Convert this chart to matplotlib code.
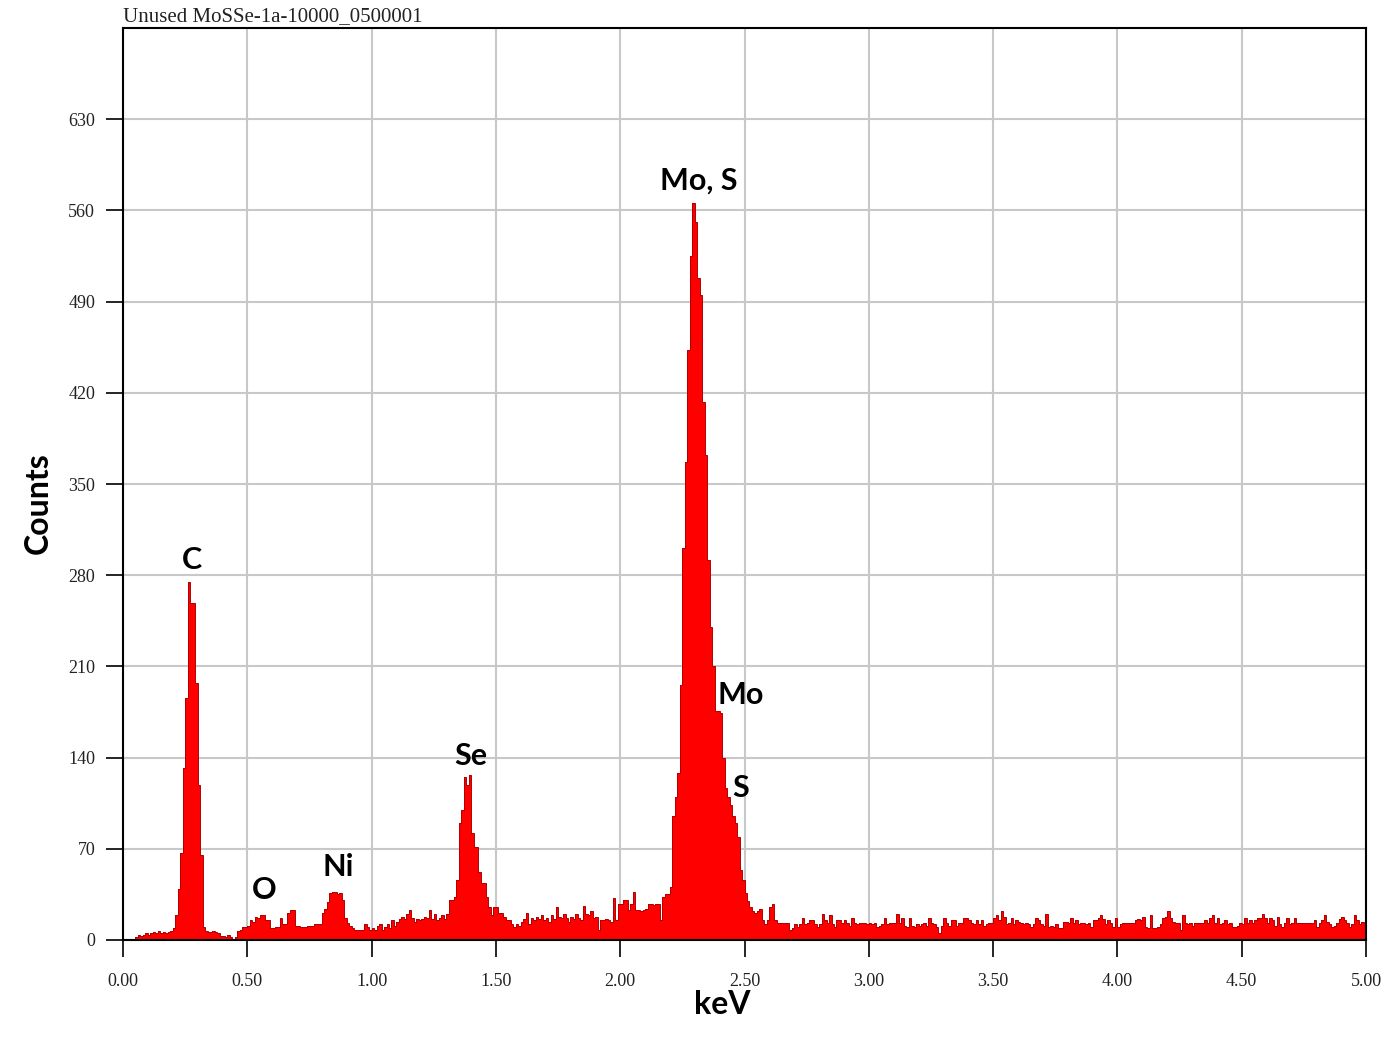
import numpy as np
import matplotlib
matplotlib.use("Agg")
import matplotlib.pyplot as plt

# EDS spectrum, 0.01 keV channels, counts
counts_0_1 = [0, 0, 0, 0, 0, 2, 4, 3, 4, 5,
              4, 5, 6, 5, 7, 5, 6, 5, 6, 7,
              9, 19, 39, 67, 132, 186, 275, 259, 259, 197,
              119, 65, 10, 7, 6, 6, 7, 6, 5, 3,
              3, 2, 4, 2, 1, 2, 7, 8, 10, 10,
              11, 15, 14, 18, 17, 19, 19, 15, 15, 9,
              9, 10, 10, 17, 12, 12, 21, 23, 23, 11,
              11, 10, 10, 10, 11, 11, 11, 12, 12, 12,
              21, 24, 29, 36, 37, 37, 35, 36, 31, 17,
              13, 11, 9, 8, 8, 8, 8, 12, 10, 8]
counts_1_2 = [9, 8, 11, 12, 8, 10, 12, 9, 15, 11,
              14, 16, 18, 16, 20, 23, 17, 14, 16, 15,
              16, 18, 17, 23, 16, 20, 15, 17, 19, 16,
              20, 31, 31, 33, 46, 90, 100, 125, 119, 127,
              82, 71, 71, 52, 44, 44, 33, 25, 19, 25,
              25, 21, 21, 18, 15, 15, 12, 10, 12, 11,
              14, 16, 21, 12, 17, 15, 18, 16, 19, 15,
              17, 14, 19, 16, 25, 18, 17, 20, 17, 14,
              18, 16, 20, 17, 15, 26, 20, 19, 22, 17,
              18, 8, 15, 15, 16, 15, 14, 32, 15, 28]
counts_2_3 = [28, 31, 31, 23, 28, 37, 23, 23, 22, 23,
              24, 28, 28, 27, 28, 28, 15, 33, 35, 35,
              41, 95, 110, 128, 196, 301, 367, 453, 525, 566,
              551, 508, 495, 413, 372, 292, 240, 210, 176, 176,
              174, 140, 117, 110, 104, 95, 90, 79, 54, 46,
              36, 30, 25, 22, 21, 22, 24, 15, 12, 15,
              25, 28, 15, 13, 13, 13, 13, 13, 8, 9,
              12, 10, 12, 17, 12, 13, 15, 15, 12, 10,
              12, 20, 15, 13, 19, 12, 10, 15, 15, 13,
              15, 13, 11, 17, 13, 12, 13, 13, 13, 12]
counts_3_4 = [13, 12, 13, 10, 11, 12, 17, 12, 13, 13,
              13, 20, 13, 17, 11, 10, 17, 11, 10, 12,
              11, 12, 13, 11, 17, 13, 12, 10, 5, 11,
              17, 13, 11, 15, 15, 11, 13, 13, 17, 17,
              15, 13, 12, 15, 12, 15, 11, 12, 13, 13,
              17, 19, 15, 22, 18, 12, 13, 17, 12, 15,
              14, 13, 12, 13, 12, 10, 12, 17, 15, 12,
              11, 20, 10, 11, 10, 12, 9, 9, 14, 14,
              13, 17, 13, 15, 12, 13, 13, 12, 13, 10,
              15, 15, 17, 19, 16, 12, 15, 13, 10, 17]
counts_4_5 = [10, 12, 13, 13, 13, 13, 13, 15, 16, 15,
              18, 10, 9, 19, 9, 9, 10, 12, 17, 18,
              22, 17, 14, 13, 13, 8, 19, 13, 12, 13,
              11, 13, 13, 13, 13, 15, 13, 17, 19, 13,
              17, 12, 13, 15, 12, 13, 10, 10, 11, 13,
              12, 17, 13, 15, 13, 15, 17, 17, 20, 17,
              13, 17, 15, 11, 18, 12, 10, 13, 17, 12,
              13, 17, 13, 13, 13, 13, 13, 13, 13, 15,
              10, 13, 15, 19, 14, 12, 10, 11, 13, 16,
              18, 15, 13, 10, 12, 19, 15, 12, 14, 13]

peak_labels = ["C", "O", "Ni", "Se", "Mo, S", "Mo", "S"]
peak_kev = [0.278, 0.567, 0.865, 1.40, 2.317, 2.486, 2.486]
peak_cts = [292, 38, 56, 141, 583, 188, 117]

xticks = [0.0, 0.5, 1.0, 1.5, 2.0, 2.5, 3.0, 3.5, 4.0, 4.5, 5.0]
yticks = [0, 70, 140, 210, 280, 350, 420, 490, 560, 630]

counts = np.array(counts_0_1 + counts_1_2 + counts_2_3 + counts_3_4 + counts_4_5)
edges = np.linspace(0, 5.0, len(counts) + 1)

fig = plt.figure(figsize=(13.87, 10.5), dpi=100)
ax = fig.add_axes([123/1387, 1 - 940/1050, (1366 - 123)/1387, (940 - 28)/1050])

ax.stairs(counts, edges, fill=True, color="#ff0000", zorder=3)
ax.stairs(counts, edges, baseline=None, color="#b00000", lw=0.7, zorder=4)

ax.set_xlim(0, 5.0)
ax.set_ylim(0, 700)
ax.set_xticks(xticks)
ax.set_yticks(yticks)
ax.set_xticklabels(["%.2f" % v for v in xticks])
ax.set_yticklabels([str(v) for v in yticks])
ax.grid(True, color="#c8c8c8", lw=1.5, zorder=0)
ax.set_axisbelow(True)
for s in ax.spines.values():
    s.set_linewidth(1.5)
    s.set_color("black")
    s.set_zorder(5)

ax.tick_params(axis="both", direction="out", length=12, width=1.2, color="black",
               labelsize=13, labelcolor="#222222")
ax.tick_params(axis="x", pad=12)
ax.tick_params(axis="y", pad=8)
for lab in ax.get_xticklabels() + ax.get_yticklabels():
    lab.set_family("Liberation Serif")

for txt, x, y in zip(peak_labels, peak_kev, peak_cts):
    ax.text(x, y, txt, ha="center", va="center", fontsize=22, fontweight="bold",
            family="Lato", color="black", zorder=6)

fig.text(123/1387, 1 - 17/1050, "Unused MoSSe-1a-10000_0500001", ha="left", va="center",
         fontsize=15, family="Liberation Serif", color="#222222")
fig.text(38/1387, 1 - 503/1050, "Counts", rotation=90, ha="center", va="center",
         fontsize=23, fontweight="bold", family="Lato")
fig.text(722/1387, 1 - 1005/1050, "keV", ha="center", va="center",
         fontsize=23, fontweight="bold", family="Lato")

fig.savefig("out.png", dpi=100)
